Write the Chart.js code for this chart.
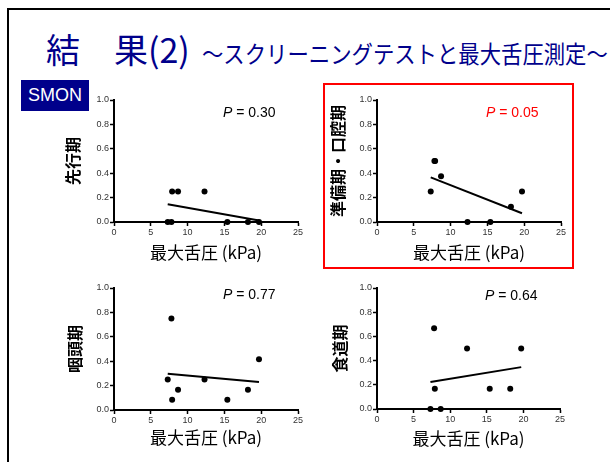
<!DOCTYPE html>
<html lang="ja">
<head>
<meta charset="utf-8">
<title>結果(2) スクリーニングテストと最大舌圧測定</title>
<script src="https://cdn.jsdelivr.net/npm/chart.js@4/dist/chart.umd.min.js"></script>
<style>
  html, body { margin: 0; padding: 0; background: #fff; }
  #slide { position: relative; width: 610px; height: 462px; overflow: hidden; background: #fff; }
  #frame { position: absolute; left: 7px; top: 8px; width: 700px; height: 600px; border: 2px solid #000; box-sizing: border-box; }
  #title { position: absolute; left: 46px; top: 24px; white-space: nowrap; color: #00008b;
           font-family: "Noto Sans CJK JP", sans-serif; }
  #title .main { font-size: 34px; }
  #title .sub { font-size: 24px; display: inline-block; transform: scaleX(0.89); transform-origin: left center; margin-left: 12px; }
  #badge { position: absolute; left: 21px; top: 80px; width: 68px; height: 31px; background: #00008b; color: #fff;
           font-family: "Liberation Sans", Arial, sans-serif; font-size: 18px; line-height: 31px; text-align: center; }
  #highlight { position: absolute; left: 323px; top: 83px; width: 251px; height: 186px; border: 2px solid #ff0000; box-sizing: border-box; }
  canvas { position: absolute; }
</style>
</head>
<body>
<div id="slide">
  <div id="frame"></div>
  <div id="title"><span class="main">結　果(2)</span><span class="sub">～スクリーニングテストと最大舌圧測定～</span></div>
  <div id="badge">SMON</div>
  <div id="highlight"></div>
  <canvas id="c1"></canvas>
  <canvas id="c2"></canvas>
  <canvas id="c3"></canvas>
  <canvas id="c4"></canvas>
</div>
<script>
// Maximum tongue pressure (kPa) per patient
const tonguePressure = [7.3, 7.8, 7.9, 8.7, 12.3, 15.4, 18.2, 19.7];

// Screening test scores per swallowing phase (same patient order)
const anticipatory     = [0, 0, 0.25, 0.25, 0.25, 0, 0, 0];
const preparatoryOral  = [0.25, 0.5, 0.5, 0.375, 0, 0, 0.125, 0.25];
const pharyngeal       = [0.25, 0.75, 0.0833, 0.1667, 0.25, 0.0833, 0.1667, 0.4167];
const esophageal       = [0, 0.6667, 0.1667, 0, 0.5, 0.1667, 0.1667, 0.5];

const phaseLabels = ['先行期', '準備期・口腔期', '咽頭期', '食道期'];
const pValues = ['0.30', '0.05', '0.77', '0.64'];
const xTickValues = [0, 5, 10, 15, 20, 25];
const yTickValues = [0, 0.2, 0.4, 0.6, 0.8, 1.0];
const xAxisTitle = '最大舌圧 (kPa)';

const phaseSeries = [anticipatory, preparatoryOral, pharyngeal, esophageal];

// Panel placement on the slide
const panelLayout = [
  { id: 'c1', left: 55,  top: 88,  width: 255, height: 180, yWidth: 59, xHeight: 46, xTitleGap: 4.8, pDx: 109, pDy: 13, pColor: '#000' },
  { id: 'c2', left: 320, top: 88,  width: 253, height: 180, yWidth: 57, xHeight: 46, xTitleGap: 4.8, pDx: 109, pDy: 13, pColor: '#ff0000' },
  { id: 'c3', left: 57,  top: 276, width: 253, height: 180, yWidth: 57, xHeight: 46, xTitleGap: 7.8, pDx: 109, pDy: 7,  pColor: '#000' },
  { id: 'c4', left: 322, top: 276, width: 250, height: 179, yWidth: 55, xHeight: 46, xTitleGap: 5.8, pDx: 108, pDy: 8,  pColor: '#000' }
];

// Least-squares line through the scatter, drawn across the data's x range
function fitLine(xs, ys) {
  const n = xs.length;
  const mx = xs.reduce((a, b) => a + b, 0) / n;
  const my = ys.reduce((a, b) => a + b, 0) / n;
  let sxy = 0, sxx = 0;
  for (let i = 0; i < n; i++) { sxy += (xs[i] - mx) * (ys[i] - my); sxx += (xs[i] - mx) ** 2; }
  const slope = sxy / sxx;
  const x0 = Math.min(...xs), x1 = Math.max(...xs);
  return [{ x: x0, y: my + slope * (x0 - mx) }, { x: x1, y: my + slope * (x1 - mx) }];
}

// Draws the "P = value" annotation with an italic P
const pLabelPlugin = {
  id: 'pLabel',
  afterDatasetsDraw(chart, args, opts) {
    const { ctx, chartArea } = chart;
    const x = chartArea.left + opts.dx;
    const y = chartArea.top + opts.dy;
    ctx.save();
    ctx.fillStyle = opts.color;
    ctx.textBaseline = 'middle';
    ctx.textAlign = 'left';
    ctx.font = 'italic 14px "Liberation Sans", Arial, sans-serif';
    ctx.fillText('P', x, y);
    const w = ctx.measureText('P').width;
    ctx.font = '14px "Liberation Sans", Arial, sans-serif';
    ctx.fillText(' = ' + opts.value, x + w, y);
    ctx.restore();
  }
};

const tickFont = { family: '"Liberation Sans", Arial, sans-serif', size: 9 };

panelLayout.forEach((p, i) => {
  const canvas = document.getElementById(p.id);
  canvas.width = p.width;
  canvas.height = p.height;
  canvas.style.left = p.left + 'px';
  canvas.style.top = p.top + 'px';
  canvas.style.width = p.width + 'px';
  canvas.style.height = p.height + 'px';

  const ys = phaseSeries[i];
  const points = tonguePressure.map((x, k) => ({ x, y: ys[k] }));

  new Chart(canvas, {
    type: 'scatter',
    data: {
      datasets: [
        { type: 'scatter', data: points, pointRadius: 3, pointBackgroundColor: '#000', pointBorderWidth: 0, clip: false },
        { type: 'line', data: fitLine(tonguePressure, ys), borderColor: '#000', borderWidth: 2,
          pointRadius: 0, fill: false, clip: false }
      ]
    },
    plugins: [pLabelPlugin],
    options: {
      responsive: false,
      animation: false,
      devicePixelRatio: 1,
      events: [],
      layout: { padding: { top: 12, right: 12, left: 0, bottom: 0 } },
      plugins: {
        legend: { display: false },
        tooltip: { enabled: false },
        pLabel: { value: pValues[i], dx: p.pDx, dy: p.pDy, color: p.pColor }
      },
      scales: {
        x: {
          type: 'linear', min: xTickValues[0], max: xTickValues[xTickValues.length - 1],
          afterBuildTicks: s => { s.ticks = xTickValues.map(v => ({ value: v })); },
          ticks: { font: tickFont, color: '#333', padding: 1, maxRotation: 0, callback: v => String(v) },
          grid: { drawOnChartArea: false, drawTicks: true, tickLength: 4, tickColor: '#000', tickWidth: 1.5 },
          border: { display: true, color: '#000', width: 2 },
          title: { display: true, text: xAxisTitle, color: '#000',
                   font: { family: '"Noto Sans CJK JP", sans-serif', size: 17 },
                   padding: { top: 0, bottom: p.xTitleGap } },
          afterFit: s => { s.height = p.xHeight; }
        },
        y: {
          type: 'linear', min: yTickValues[0], max: yTickValues[yTickValues.length - 1],
          afterBuildTicks: s => { s.ticks = yTickValues.map(v => ({ value: v })); },
          ticks: { font: tickFont, color: '#333', padding: 1, callback: v => Number(v).toFixed(1) },
          grid: { drawOnChartArea: false, drawTicks: true, tickLength: 4, tickColor: '#000', tickWidth: 1.5 },
          border: { display: true, color: '#000', width: 2 },
          title: { display: true, text: phaseLabels[i], color: '#000',
                   font: { family: '"Noto Sans CJK JP", sans-serif', size: 16, weight: 'bold' },
                   padding: { top: 8.4, bottom: 0 } },
          afterFit: s => { s.width = p.yWidth; }
        }
      }
    }
  });
});
</script>
</body>
</html>
